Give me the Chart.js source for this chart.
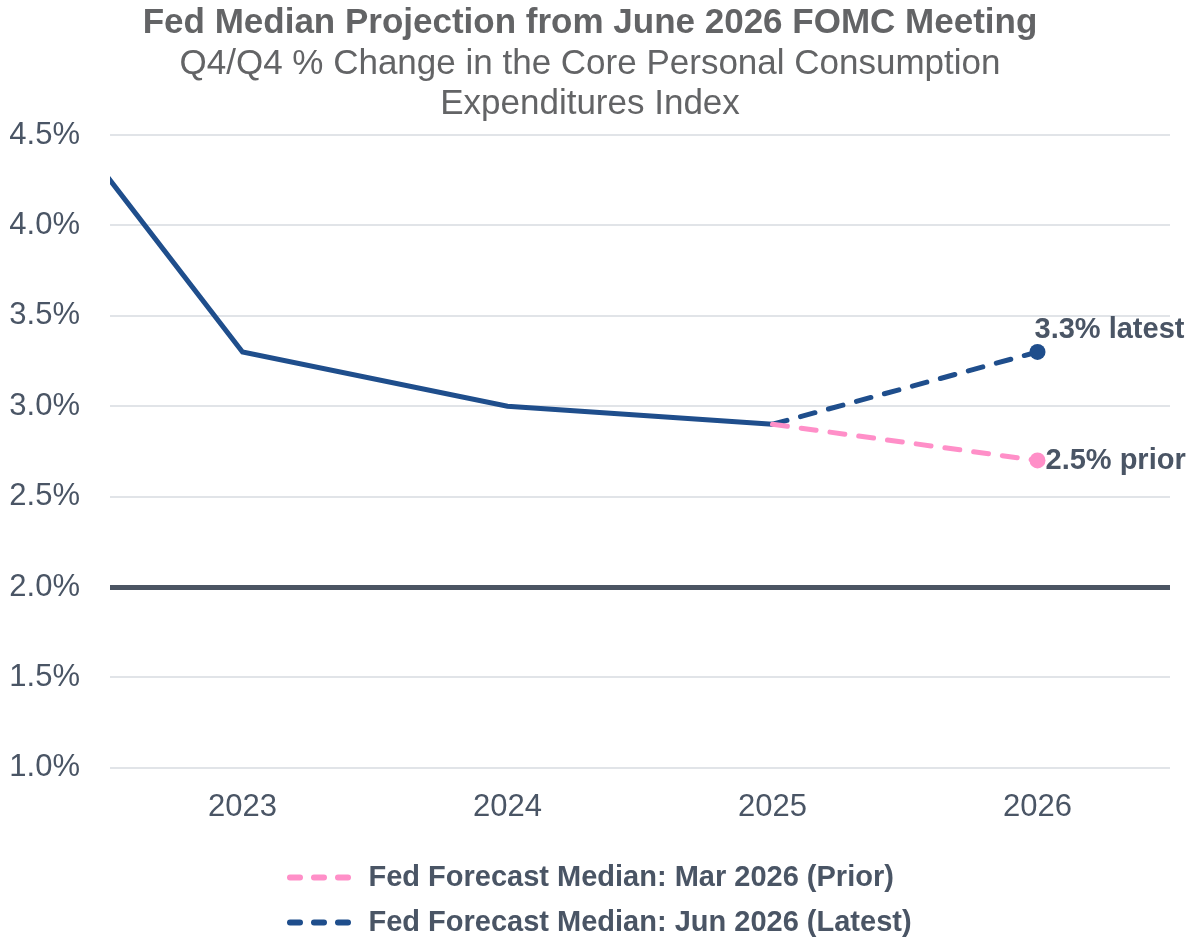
<!DOCTYPE html>
<html>
<head>
<meta charset="utf-8">
<script src="https://cdn.jsdelivr.net/npm/chart.js@4.4.1/dist/chart.umd.min.js"></script>
<style>
  html, body { margin: 0; padding: 0; background: #ffffff; }
  #wrap { width: 1190px; height: 940px; }
</style>
</head>
<body>
<div id="wrap"><canvas id="c" width="1190" height="940"></canvas></div>
<script>
// ---- data ----
const titleText = "Fed Median Projection from June 2026 FOMC Meeting";
const subtitleLines = ["Q4/Q4 % Change in the Core Personal Consumption", "Expenditures Index"];
const actualYears = [2022, 2023, 2024, 2025];
const actualValues = [5.2, 3.3, 3.0, 2.9];
const forecastYears = [2025, 2026];
const priorValues = [2.9, 2.7];
const latestValues = [2.9, 3.3];
const tickYears = [2023, 2024, 2025, 2026];
const yTicks = [1.0, 1.5, 2.0, 2.5, 3.0, 3.5, 4.0, 4.5];
const targetValue = 2.0;
const priorLabel = "Fed Forecast Median: Mar 2026 (Prior)";
const latestLabel = "Fed Forecast Median: Jun 2026 (Latest)";
const latestNote = "3.3% latest";
const priorNote = "2.5% prior";

const BLUE = '#1f4e8c';
const PINK = '#ff8fc8';
const TEXT = '#4a5565';
const FONT = "'Liberation Sans', Arial, sans-serif";

const toPts = (xs, ys) => xs.map((x, i) => ({ x: x, y: ys[i] }));

const notePlugin = {
  id: 'notes',
  afterLayout(chart) {
    if (chart.legend) { chart.legend.left = 274; }
  },
  afterDatasetsDraw(chart) {
    const ctx = chart.ctx;
    const xs = chart.scales.x, ys = chart.scales.y;
    const lx = xs.getPixelForValue(forecastYears[1]);
    const latY = ys.getPixelForValue(latestValues[1]);
    const priY = ys.getPixelForValue(priorValues[1]);
    ctx.save();
    ctx.fillStyle = TEXT;
    ctx.font = "bold 29px " + FONT;
    ctx.textAlign = 'left';
    ctx.textBaseline = 'middle';
    ctx.fillText(latestNote, lx - 3, latY - 22);
    ctx.fillText(priorNote, lx + 8, priY + 1);
    ctx.restore();
  }
};

new Chart(document.getElementById('c'), {
  type: 'line',
  data: {
    datasets: [
      {
        label: priorLabel,
        data: toPts(forecastYears, priorValues),
        borderColor: PINK,
        backgroundColor: PINK,
        borderWidth: 5,
        borderDash: [15, 14],
        borderCapStyle: 'round',
        pointRadius: c => c.dataIndex === priorValues.length - 1 ? 8 : 0,
        pointBackgroundColor: PINK,
        pointBorderWidth: 0,
        clip: 0
      },
      {
        label: latestLabel,
        data: toPts(forecastYears, latestValues),
        borderColor: BLUE,
        backgroundColor: BLUE,
        borderWidth: 5,
        borderDash: [15, 14],
        borderCapStyle: 'round',
        pointRadius: c => c.dataIndex === latestValues.length - 1 ? 8 : 0,
        pointBackgroundColor: BLUE,
        pointBorderWidth: 0,
        clip: 0
      },
      {
        label: 'Actual',
        data: toPts(actualYears, actualValues),
        borderColor: BLUE,
        borderWidth: 5,
        pointRadius: 0,
        borderJoinStyle: 'miter',
        clip: 0
      }
    ]
  },
  options: {
    responsive: false,
    animation: false,
    devicePixelRatio: 1,
    layout: { padding: { left: 10, right: 20, top: 2, bottom: -7 } },
    plugins: {
      tooltip: { enabled: false },
      title: {
        display: true,
        text: titleText,
        color: '#636466',
        font: { family: FONT, size: 35, weight: 'bold', lineHeight: 1.2 },
        padding: { top: 0, bottom: 0 }
      },
      subtitle: {
        display: true,
        text: subtitleLines,
        color: '#636466',
        font: { family: FONT, size: 35, weight: 'normal', lineHeight: 1.143 },
        padding: { top: 0, bottom: 11 }
      },
      legend: {
        position: 'bottom',
        align: 'start',
        labels: {
          usePointStyle: true,
          pointStyleWidth: 64,
          boxHeight: 29,
          padding: 16,
          color: TEXT,
          font: { family: FONT, size: 29, weight: 'bold' },
          generateLabels(chart) {
            return chart.data.datasets.slice(0, 2).map((d, i) => ({
              text: d.label,
              strokeStyle: d.borderColor,
              fillStyle: d.borderColor,
              lineWidth: 6,
              lineDash: [10, 14],
              lineCap: 'round',
              pointStyle: 'line',
              fontColor: TEXT,
              datasetIndex: i,
              hidden: false
            }));
          }
        }
      }
    },
    scales: {
      x: {
        type: 'linear',
        min: 2022.5,
        max: 2026.5,
        afterBuildTicks(scale) { scale.ticks = tickYears.map(v => ({ value: v })); },
        grid: { display: false, drawTicks: false },
        border: { display: false },
        ticks: {
          color: TEXT,
          padding: 21,
          font: { family: FONT, size: 31 },
          callback: v => String(v)
        }
      },
      y: {
        min: 1.0,
        max: 4.5,
        afterBuildTicks(scale) { scale.ticks = yTicks.map(v => ({ value: v })); },
        afterFit(scale) { scale.width = 100; },
        grid: {
          drawTicks: false,
          color: c => (c.tick && Math.abs(c.tick.value - targetValue) < 1e-9) ? '#4b5563' : '#e1e4e8',
          lineWidth: c => (c.tick && Math.abs(c.tick.value - targetValue) < 1e-9) ? 5 : 2
        },
        border: { display: false },
        ticks: {
          color: TEXT,
          padding: 30,
          font: { family: FONT, size: 31 },
          callback: v => v.toFixed(1) + '%'
        }
      }
    }
  },
  plugins: [notePlugin]
});
</script>
</body>
</html>
